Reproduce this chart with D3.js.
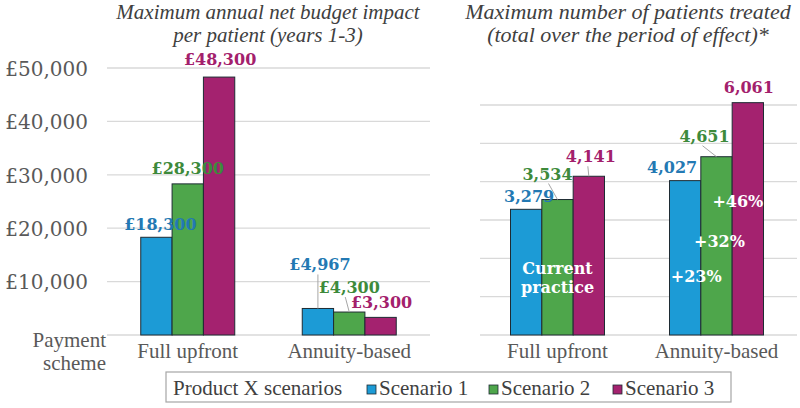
<!DOCTYPE html>
<html>
<head>
<meta charset="utf-8">
<script src="https://cdn.jsdelivr.net/npm/d3@7"></script>
<style>
  html, body { margin: 0; padding: 0; background: #fff; }
  svg { display: block; }
</style>
</head>
<body>
<svg id="chart" width="800" height="408"></svg>
<script>
// ---------- DATA ----------
const categories = ["Full upfront", "Annuity-based"];
const seriesNames = ["Scenario 1", "Scenario 2", "Scenario 3"];
const budgetS1 = [18300, 4967];
const budgetS2 = [28300, 4300];
const budgetS3 = [48300, 3300];
const patientsS1 = [3279, 4027];
const patientsS2 = [3534, 4651];
const patientsS3 = [4141, 6061];
const budgetTicks = [10000, 20000, 30000, 40000, 50000];
const patientGrid = [1000, 2000, 3000, 4000, 5000, 6000];
const titleLeft = ["Maximum annual net budget impact", "per patient (years 1-3)"];
const titleRight = ["Maximum number of patients treated", "(total over the period of effect)*"];
const axisTitle = ["Payment", "scheme"];
const legendTitle = "Product X scenarios";
const annotationCurrent = ["Current", "practice"];

// ---------- STYLE / LAYOUT ----------
const colors = ["#1c9bd6", "#4ea64b", "#a4226f"];
const labelColors = ["#2379b3", "#3d8a3b", "#a3206c"];
const barStroke = "#1e2b33";
const gridColor = "#d9d9d9";
const textColor = "#595959";
const serif = "'Liberation Serif', 'Times New Roman', serif";
const boldSerif = "'DejaVu Serif', Georgia, serif";

const svg = d3.select("#chart");
const baseY = 335;

// label offsets [dx, dy] relative to bar centre / top; leader start dx (null = none)
const budgetLabelOff = [
  [[4, -7], [0, -10], [1, -12]],
  [[2, -38], [0, -19], [1, -9]]
];
const budgetLeader = [[null, null, null], [-2, -4, null]];
const patientLabelOff = [
  [[3, -7], [-10, -20], [2, -14]],
  [[-13, -8], [-12, -15], [1, -10]]
];
const patientLeader = [[null, 1, -3], [null, -2, null]];

function drawPanel(opt) {
  const g = svg.append("g");
  const x0 = d3.scaleBand().domain(categories).range(opt.xRange).paddingInner(0).paddingOuter(0);
  const groupW = 94;
  const x1 = d3.scaleBand().domain(seriesNames).range([0, groupW]);
  const y = d3.scaleLinear().domain([0, opt.yMax]).range([baseY, opt.yTop]);

  // gridlines
  g.selectAll("line.grid").data(opt.grid).join("line")
    .attr("x1", opt.gridX[0]).attr("x2", opt.gridX[1])
    .attr("y1", d => y(d)).attr("y2", d => y(d))
    .attr("stroke", gridColor).attr("stroke-width", 1.3);
  g.append("line").attr("x1", opt.gridX[0]).attr("x2", opt.gridX[1])
    .attr("y1", y(0)).attr("y2", y(0))
    .attr("stroke", gridColor).attr("stroke-width", 1.5);

  const rows = [];
  categories.forEach((c, ci) => {
    seriesNames.forEach((s, si) => {
      const v = opt.values[si][ci];
      const bx = x0(c) + (x0.bandwidth() - groupW) / 2 + x1(s);
      rows.push({c, ci, s, si, v, bx, cx: bx + x1.bandwidth() / 2, top: y(v)});
    });
  });

  g.selectAll("rect.bar").data(rows).join("rect")
    .attr("x", d => d.bx).attr("y", d => d.top)
    .attr("width", x1.bandwidth()).attr("height", d => y(0) - d.top)
    .attr("fill", d => colors[d.si])
    .attr("stroke", barStroke).attr("stroke-width", 1);

  // leader lines
  rows.forEach(d => {
    const ld = opt.leaders[d.ci][d.si];
    if (ld === null) return;
    const off = opt.labelOff[d.ci][d.si];
    const lx = d.cx + off[0];
    const ly = d.top + off[1];
    g.append("line")
      .attr("x1", lx + ld).attr("y1", ly + 4)
      .attr("x2", d.cx).attr("y2", d.top)
      .attr("stroke", "#a6a6a6").attr("stroke-width", 1);
  });

  g.selectAll("text.vlabel").data(rows).join("text")
    .attr("x", d => d.cx + opt.labelOff[d.ci][d.si][0])
    .attr("y", d => d.top + opt.labelOff[d.ci][d.si][1])
    .attr("text-anchor", "middle")
    .attr("font-family", boldSerif).attr("font-weight", "bold")
    .attr("font-size", 16)
    .attr("fill", d => labelColors[d.si])
    .text(d => opt.fmt(d.v));

  // category labels
  g.selectAll("text.cat").data(categories).join("text")
    .attr("x", d => x0(d) + x0.bandwidth() / 2)
    .attr("y", 358)
    .attr("text-anchor", "middle")
    .attr("font-family", serif).attr("font-size", 21)
    .attr("fill", textColor)
    .text(d => d);

  // title
  g.selectAll("text.title").data(opt.title).join("text")
    .attr("x", opt.titleX).attr("y", (d, i) => 19 + i * 23)
    .attr("text-anchor", "middle")
    .attr("font-family", serif).attr("font-style", "italic")
    .attr("font-size", opt.titleSize).attr("fill", "#404040")
    .text(d => d);

  return {x0, x1, y, rows, g};
}

// left panel
const left = drawPanel({
  xRange: [107, 430], gridX: [107, 430], yMax: 50000, yTop: 68,
  grid: budgetTicks, values: [budgetS1, budgetS2, budgetS3],
  labelOff: budgetLabelOff, leaders: budgetLeader,
  fmt: v => "£" + d3.format(",")(v),
  title: titleLeft, titleX: 268, titleSize: 21
});

// left y-axis labels
const yAxis = d3.axisLeft(left.y).tickValues(budgetTicks)
  .tickFormat(v => "£" + d3.format(",")(v)).tickSize(0).tickPadding(0);
const ag = svg.append("g").attr("transform", "translate(88,0)").call(yAxis);
ag.select(".domain").remove();
ag.selectAll("text").attr("font-family", boldSerif).attr("font-size", 20)
  .attr("fill", textColor).attr("dy", "0.36em");

// right panel
const right = drawPanel({
  xRange: [478, 796], gridX: [480, 797], yMax: 6000, yTop: 105,
  grid: patientGrid, values: [patientsS1, patientsS2, patientsS3],
  labelOff: patientLabelOff, leaders: patientLeader,
  fmt: v => d3.format(",")(v),
  title: titleRight, titleX: 628, titleSize: 22
});

// annotations in right panel
const bandC = right.x0(categories[0]) + right.x0.bandwidth() / 2;
right.g.selectAll("text.cur").data(annotationCurrent).join("text")
  .attr("x", bandC).attr("y", (d, i) => right.y(1590) + i * 19)
  .attr("text-anchor", "middle")
  .attr("font-family", boldSerif).attr("font-weight", "bold").attr("font-size", 16)
  .attr("fill", "#fff").text(d => d);

const pctBase = [patientsS1[0], patientsS2[0], patientsS3[0]];
const pctNew = [patientsS1[1], patientsS2[1], patientsS3[1]];
const pctPos = [[11, 1370], [3, 2300], [-10, 3330]]; // [dx from bar centre, y in data units]
const annRows = right.rows.filter(r => r.ci === 1);
right.g.selectAll("text.pct").data(annRows).join("text")
  .attr("x", d => d.cx + pctPos[d.si][0])
  .attr("y", d => right.y(pctPos[d.si][1]))
  .attr("text-anchor", "middle")
  .attr("font-family", boldSerif).attr("font-weight", "bold").attr("font-size", 16)
  .attr("fill", "#fff")
  .text(d => "+" + Math.round((pctNew[d.si] / pctBase[d.si] - 1) * 100) + "%");

// "Payment scheme"
svg.selectAll("text.axt").data(axisTitle).join("text")
  .attr("x", 106).attr("y", (d, i) => 347 + i * 23)
  .attr("text-anchor", "end")
  .attr("font-family", serif).attr("font-size", 21)
  .attr("fill", textColor).text(d => d);

// legend
const lg = svg.append("g");
lg.append("rect").attr("x", 166).attr("y", 372).attr("width", 565).attr("height", 30)
  .attr("fill", "#fff").attr("stroke", "#a6a6a6").attr("stroke-width", 1.2);
lg.append("text").attr("x", 173).attr("y", 395)
  .attr("font-family", serif).attr("font-size", 21).attr("fill", "#404040")
  .text(legendTitle);
const legX = [367, 489, 613];
seriesNames.forEach((s, i) => {
  lg.append("rect").attr("x", legX[i]).attr("y", 385).attr("width", 9).attr("height", 9)
    .attr("fill", colors[i]).attr("stroke", barStroke).attr("stroke-width", 0.8);
  lg.append("text").attr("x", legX[i] + 12).attr("y", 395)
    .attr("font-family", serif).attr("font-size", 21).attr("fill", "#404040")
    .text(s);
});
</script>
</body>
</html>
